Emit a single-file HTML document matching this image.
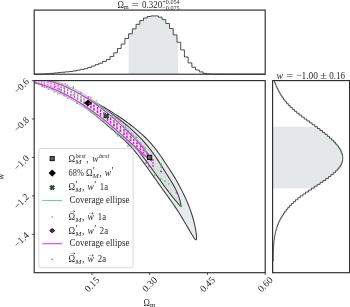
<!DOCTYPE html>
<html><head><meta charset="utf-8"><title>Contour plot</title>
<style>
html,body{margin:0;padding:0;background:#fff;}
body{width:350px;height:307px;overflow:hidden;}
svg{display:block;font-family:"Liberation Serif", serif;filter:blur(0.35px);}
</style></head><body>
<svg width="350" height="307" viewBox="0 0 350 307">
<rect width="350" height="307" fill="#fff"/>
<path d="M128.53 74.20 L128.53 38.52 L128.62 38.52 L128.62 33.76 L132.34 33.76 L132.34 28.87 L136.06 28.87 L136.06 24.32 L139.78 24.32 L139.78 20.58 L143.50 20.58 L143.50 18.00 L147.22 18.00 L147.22 16.52 L150.94 16.52 L150.94 15.90 L154.66 15.90 L154.66 15.90 L158.38 15.90 L158.38 17.14 L162.10 17.14 L162.10 19.67 L165.82 19.67 L165.82 23.47 L169.54 23.47 L169.54 28.56 L173.26 28.56 L173.26 34.86 L176.98 34.86 L176.98 42.23 L178.19 42.23 L178.19 74.20 Z" fill="#e4e8e9"/>
<path d="M34.20 74.19 H35.62 V74.14 H39.34 V74.07 H43.06 V74.00 H46.78 V73.65 H50.50 V73.30 H54.22 V72.94 H57.94 V72.58 H61.66 V72.22 H65.38 V71.85 H69.10 V71.49 H72.82 V70.94 H76.54 V70.18 H80.26 V69.42 H83.98 V68.66 H87.70 V67.47 H91.42 V66.07 H95.14 V64.66 H98.86 V63.26 H102.58 V61.44 H106.30 V59.53 H110.02 V56.43 H113.74 V52.83 H117.46 V48.54 H121.18 V44.08 H124.90 V38.52 H128.62 V33.76 H132.34 V28.87 H136.06 V24.32 H139.78 V20.58 H143.50 V18.00 H147.22 V16.52 H150.94 V15.90 H154.66 V15.90 H158.38 V17.14 H162.10 V19.67 H165.82 V23.47 H169.54 V28.56 H173.26 V34.86 H176.98 V42.23 H180.70 V49.92 H184.42 V56.97 H188.14 V62.90 H191.86 V67.25 H195.58 V69.98 H199.30 V71.88 H203.02 V73.39 H206.74 V73.90 H210.46 V74.10 H214.18 V74.11 H217.90 V74.12 H221.62 V74.12 H225.34 V74.13 H229.06 V74.14 H232.78 V74.14 H236.50 V74.15 H240.22 V74.16 H243.94 V74.16 H247.66 V74.17 H251.38 V74.18 H255.10 V74.18 H258.82 V74.19 H262.54 V74.20 H265.20" fill="none" stroke="#3a3a3a" stroke-width="0.9"/>
<path d="M272.60 126.70 L317.41 126.70 L317.41 128.62 L320.00 128.62 L320.00 130.55 L322.52 130.55 L322.52 132.47 L324.96 132.47 L324.96 134.39 L327.30 134.39 L327.30 136.31 L329.53 136.31 L329.53 138.23 L331.63 138.23 L331.63 140.15 L333.59 140.15 L333.59 142.07 L335.40 142.07 L335.40 143.99 L337.04 143.99 L337.04 145.91 L338.50 145.91 L338.50 147.83 L339.77 147.83 L339.77 149.76 L340.83 149.76 L340.83 151.68 L341.68 151.68 L341.68 153.60 L342.29 153.60 L342.29 155.52 L342.65 155.52 L342.65 157.44 L342.75 157.44 L342.75 159.36 L342.58 159.36 L342.58 161.28 L342.13 161.28 L342.13 163.20 L341.37 163.20 L341.37 165.12 L340.31 165.12 L340.31 167.05 L338.93 167.05 L338.93 168.97 L337.27 168.97 L337.27 170.89 L335.36 170.89 L335.36 172.81 L333.22 172.81 L333.22 174.73 L330.89 174.73 L330.89 176.65 L328.38 176.65 L328.38 178.57 L325.73 178.57 L325.73 180.49 L322.96 180.49 L322.96 182.41 L320.11 182.41 L320.11 184.33 L317.20 184.33 L317.20 186.25 L314.27 186.25 L314.27 188.18 L272.60 188.18 Z" fill="#e4e8e9"/>
<path d="M274.50 80.60 V82.52 H275.26 V84.44 H276.07 V86.36 H276.92 V88.28 H277.83 V90.20 H278.80 V92.13 H279.86 V94.05 H281.00 V95.97 H282.24 V97.89 H283.58 V99.81 H285.05 V101.73 H286.64 V103.65 H288.36 V105.57 H290.23 V107.49 H292.26 V109.41 H294.43 V111.34 H296.73 V113.26 H299.14 V115.18 H301.64 V117.10 H304.20 V119.02 H306.82 V120.94 H309.47 V122.86 H312.13 V124.78 H314.78 V126.70 H317.41 V128.62 H320.00 V130.55 H322.52 V132.47 H324.96 V134.39 H327.30 V136.31 H329.53 V138.23 H331.63 V140.15 H333.59 V142.07 H335.40 V143.99 H337.04 V145.91 H338.50 V147.83 H339.77 V149.76 H340.83 V151.68 H341.68 V153.60 H342.29 V155.52 H342.65 V157.44 H342.75 V159.36 H342.58 V161.28 H342.13 V163.20 H341.37 V165.12 H340.31 V167.05 H338.93 V168.97 H337.27 V170.89 H335.36 V172.81 H333.22 V174.73 H330.89 V176.65 H328.38 V178.57 H325.73 V180.49 H322.96 V182.41 H320.11 V184.33 H317.20 V186.25 H314.27 V188.18 H311.35 V190.10 H308.45 V192.02 H305.62 V193.94 H302.89 V195.86 H300.27 V197.78 H297.81 V199.70 H295.51 V201.62 H293.36 V203.54 H291.37 V205.47 H289.52 V207.39 H287.80 V209.31 H286.22 V211.23 H284.76 V213.15 H283.41 V215.07 H282.18 V216.99 H281.05 V218.91 H280.02 V220.83 H279.10 V222.75 H278.26 V224.68 H277.51 V226.60 H276.85 V228.52 H276.26 V230.44 H275.74 V232.36 H275.29 V234.28 H274.90 V236.20 H274.56 V238.12 H274.28 V240.04 H274.05 V241.96 H273.85 V243.88 H273.70 V245.81 H273.57 V247.73 H273.47 V249.65 H273.39 V251.57 H273.33 V253.49 H273.28 V255.41 H273.24 V257.33 H273.19 V259.25 H273.15 V261.17 H272.60 V263.10 H272.60 V265.02 H272.60 V266.94 H272.60 V268.86 H272.60 V270.78 H272.60 V272.70" fill="none" stroke="#3a3a3a" stroke-width="0.9"/>
<clipPath id="cm"><rect x="34.2" y="80.6" width="231.0" height="192.1"/></clipPath>
<g clip-path="url(#cm)">
<path d="M30.02 78.44 L33.09 79.00 L36.14 79.60 L39.18 80.27 L42.20 80.98 L45.21 81.75 L48.20 82.57 L51.17 83.44 L54.13 84.36 L57.08 85.33 L60.01 86.34 L62.92 87.39 L65.82 88.49 L68.71 89.64 L71.57 90.82 L74.43 92.04 L77.27 93.31 L80.09 94.61 L82.90 95.94 L85.69 97.31 L88.47 98.72 L91.24 100.15 L93.98 101.62 L96.72 103.12 L99.44 104.65 L102.14 106.20 L104.83 107.78 L107.50 109.39 L110.16 111.01 L112.80 112.67 L115.43 114.34 L118.04 116.04 L120.63 117.76 L123.20 119.52 L125.74 121.30 L128.25 123.12 L130.73 124.97 L133.17 126.87 L135.58 128.80 L137.95 130.78 L140.28 132.80 L142.56 134.88 L144.79 137.00 L146.98 139.17 L149.11 141.40 L151.18 143.69 L153.20 146.04 L155.16 148.45 L157.06 150.93 L158.90 153.44 L160.71 156.00 L162.48 158.59 L164.22 161.19 L165.94 163.81 L167.65 166.42 L169.34 169.02 L171.02 171.64 L172.66 174.26 L174.28 176.89 L175.85 179.54 L177.39 182.22 L178.89 184.91 L180.35 187.63 L181.78 190.37 L183.16 193.14 L184.51 195.95 L185.81 198.78 L187.06 201.63 L188.26 204.51 L189.40 207.42 L190.48 210.34 L191.49 213.29 L192.43 216.26 L193.30 219.24 L194.08 222.25 L194.78 225.26 L195.39 228.30 L195.91 231.34 L196.32 234.40 L196.63 237.46 L196.50 239.20 L195.80 239.90 L194.54 238.85 L192.98 236.31 L191.45 233.76 L189.94 231.20 L188.43 228.64 L186.93 226.07 L185.43 223.51 L183.92 220.95 L182.40 218.39 L180.86 215.85 L179.30 213.33 L177.72 210.82 L176.10 208.34 L174.46 205.87 L172.79 203.43 L171.10 201.00 L169.39 198.58 L167.66 196.17 L165.93 193.76 L164.19 191.35 L162.46 188.95 L160.72 186.54 L158.99 184.12 L157.27 181.69 L155.55 179.26 L153.83 176.83 L152.12 174.39 L150.40 171.96 L148.68 169.53 L146.95 167.12 L145.20 164.71 L143.45 162.32 L141.67 159.94 L139.88 157.59 L138.07 155.25 L136.22 152.95 L134.34 150.68 L132.42 148.45 L130.45 146.26 L128.43 144.11 L126.35 142.02 L124.23 139.97 L122.07 137.95 L119.87 135.96 L117.65 134.00 L115.40 132.06 L113.13 130.13 L110.86 128.22 L108.57 126.30 L106.29 124.39 L104.01 122.47 L101.74 120.54 L99.47 118.61 L97.20 116.69 L94.92 114.77 L92.64 112.87 L90.35 110.98 L88.04 109.12 L85.72 107.28 L83.37 105.47 L81.00 103.69 L78.61 101.96 L76.18 100.27 L73.72 98.63 L71.22 97.04 L68.69 95.51 L66.11 94.03 L63.49 92.62 L60.84 91.27 L58.16 89.98 L55.44 88.75 L52.69 87.58 L49.92 86.48 L47.13 85.43 L44.31 84.45 L41.47 83.54 L38.62 82.68 L35.75 81.89 L32.88 81.17 L29.99 80.51Z" fill="#e7ebeb" stroke="#3a3a3a" stroke-width="1.05" stroke-linejoin="round"/>
<path d="M88.11 100.24 L89.84 100.68 L91.52 101.26 L93.16 101.96 L94.75 102.76 L96.31 103.64 L97.86 104.57 L99.39 105.54 L100.92 106.53 L102.44 107.53 L103.97 108.53 L105.50 109.54 L107.02 110.57 L108.54 111.60 L110.06 112.64 L111.57 113.69 L113.07 114.75 L114.57 115.82 L116.06 116.90 L117.54 117.99 L119.01 119.10 L120.47 120.21 L121.92 121.34 L123.35 122.47 L124.78 123.62 L126.19 124.78 L127.59 125.95 L128.98 127.14 L130.35 128.34 L131.71 129.55 L133.06 130.77 L134.39 132.01 L135.71 133.26 L137.02 134.53 L138.30 135.81 L139.58 137.10 L140.83 138.41 L142.07 139.73 L143.30 141.07 L144.51 142.42 L145.70 143.79 L146.87 145.18 L148.03 146.58 L149.17 147.99 L150.29 149.42 L151.39 150.87 L152.48 152.34 L153.54 153.82 L154.59 155.31 L155.63 156.82 L156.66 158.33 L157.67 159.86 L158.67 161.39 L159.67 162.93 L160.65 164.48 L161.63 166.03 L162.61 167.58 L163.59 169.14 L164.56 170.69 L165.53 172.24 L166.51 173.79 L167.49 175.33 L168.46 176.87 L169.43 178.41 L170.39 179.96 L171.34 181.51 L172.27 183.06 L173.18 184.63 L174.07 186.21 L174.92 187.80 L175.74 189.41 L176.52 191.04 L177.26 192.69 L177.96 194.37 L178.60 196.07 L179.19 197.80 L179.72 199.57 L180.18 201.37 L180.58 203.21 L180.91 205.08 L181.30 206.60 L180.49 206.30 L179.31 204.97 L178.14 203.62 L176.98 202.27 L175.83 200.90 L174.70 199.52 L173.57 198.14 L172.45 196.74 L171.35 195.34 L170.25 193.93 L169.16 192.52 L168.08 191.09 L167.00 189.66 L165.93 188.23 L164.87 186.79 L163.81 185.34 L162.75 183.90 L161.70 182.45 L160.65 180.99 L159.61 179.54 L158.56 178.08 L157.52 176.62 L156.47 175.17 L155.43 173.71 L154.39 172.25 L153.34 170.79 L152.29 169.34 L151.25 167.89 L150.19 166.44 L149.14 164.99 L148.07 163.55 L147.01 162.12 L145.94 160.68 L144.86 159.26 L143.77 157.84 L142.68 156.42 L141.58 155.02 L140.47 153.62 L139.36 152.23 L138.23 150.85 L137.09 149.47 L135.95 148.11 L134.79 146.75 L133.63 145.41 L132.45 144.07 L131.26 142.74 L130.06 141.43 L128.84 140.13 L127.62 138.84 L126.38 137.56 L125.12 136.29 L123.86 135.04 L122.58 133.80 L121.28 132.57 L119.97 131.36 L118.64 130.16 L117.30 128.98 L115.95 127.80 L114.59 126.63 L113.22 125.48 L111.84 124.32 L110.47 123.17 L109.09 122.02 L107.72 120.87 L106.34 119.71 L104.98 118.55 L103.62 117.39 L102.27 116.21 L100.93 115.03 L99.61 113.83 L98.31 112.62 L97.02 111.39 L95.75 110.15 L94.51 108.88 L93.29 107.60 L92.09 106.29 L90.93 104.95 L89.80 103.59 L88.70 102.20 L87.63 100.77Z" fill="#dbe0e0" stroke="#3a3a3a" stroke-width="1.05" stroke-linejoin="round"/>
<path d="M30.41 76.63 L32.67 76.80 L34.91 77.01 L37.15 77.27 L39.36 77.58 L41.57 77.94 L43.75 78.34 L45.93 78.79 L48.09 79.29 L50.24 79.83 L52.37 80.41 L54.49 81.04 L56.60 81.71 L58.69 82.41 L60.77 83.16 L62.83 83.95 L64.89 84.77 L66.93 85.63 L68.95 86.52 L70.96 87.45 L72.96 88.42 L74.95 89.41 L76.92 90.44 L78.88 91.50 L80.83 92.59 L82.76 93.71 L84.68 94.85 L86.59 96.02 L88.48 97.22 L90.37 98.45 L92.24 99.70 L94.09 100.97 L95.94 102.26 L97.77 103.58 L99.59 104.91 L101.40 106.27 L103.19 107.64 L104.97 109.03 L106.74 110.44 L108.50 111.86 L110.25 113.30 L111.98 114.75 L113.70 116.22 L115.41 117.70 L117.10 119.20 L118.78 120.70 L120.45 122.23 L122.10 123.76 L123.73 125.31 L125.35 126.88 L126.95 128.46 L128.53 130.05 L130.10 131.66 L131.65 133.29 L133.18 134.92 L134.68 136.58 L136.17 138.24 L137.64 139.93 L139.09 141.62 L140.52 143.34 L141.92 145.06 L143.30 146.81 L144.66 148.56 L146.00 150.34 L147.31 152.12 L148.59 153.93 L149.86 155.75 L151.09 157.58 L149.61 160.01 L147.93 158.74 L146.25 157.46 L144.59 156.15 L142.93 154.83 L141.28 153.50 L139.63 152.16 L137.99 150.80 L136.36 149.43 L134.73 148.05 L133.10 146.67 L131.47 145.28 L129.85 143.88 L128.23 142.47 L126.61 141.06 L124.99 139.65 L123.36 138.24 L121.74 136.83 L120.11 135.42 L118.49 134.01 L116.85 132.60 L115.21 131.20 L113.57 129.80 L111.92 128.41 L110.27 127.02 L108.61 125.65 L106.93 124.28 L105.26 122.92 L103.57 121.58 L101.87 120.25 L100.17 118.93 L98.45 117.62 L96.73 116.32 L95.00 115.04 L93.25 113.77 L91.50 112.52 L89.74 111.28 L87.97 110.05 L86.19 108.84 L84.40 107.64 L82.60 106.46 L80.79 105.30 L78.98 104.15 L77.15 103.02 L75.31 101.90 L73.46 100.80 L71.60 99.72 L69.73 98.66 L67.85 97.62 L65.96 96.60 L64.06 95.59 L62.15 94.61 L60.22 93.64 L58.29 92.70 L56.34 91.77 L54.39 90.87 L52.42 89.99 L50.44 89.13 L48.45 88.29 L46.45 87.48 L44.44 86.69 L42.42 85.92 L40.38 85.17 L38.33 84.45 L36.27 83.76 L34.20 83.09 L32.12 82.44 L30.02 81.82Z" fill="#ffffff" fill-opacity="0.6" stroke="#5cc878" stroke-width="0.8" stroke-linejoin="round"/>
<path d="M28.10 77.24 L30.35 77.43 L32.59 77.66 L34.81 77.94 L37.01 78.26 L39.21 78.63 L41.38 79.04 L43.55 79.50 L45.70 80.00 L47.84 80.54 L49.97 81.12 L52.08 81.74 L54.17 82.41 L56.26 83.11 L58.33 83.84 L60.39 84.62 L62.44 85.43 L64.47 86.27 L66.49 87.15 L68.49 88.06 L70.49 89.01 L72.47 89.98 L74.44 90.99 L76.39 92.02 L78.33 93.09 L80.26 94.18 L82.18 95.30 L84.09 96.45 L85.98 97.62 L87.86 98.82 L89.73 100.04 L91.58 101.28 L93.43 102.54 L95.26 103.83 L97.08 105.13 L98.89 106.46 L100.68 107.80 L102.47 109.17 L104.24 110.54 L106.00 111.94 L107.75 113.35 L109.48 114.77 L111.21 116.21 L112.92 117.66 L114.62 119.12 L116.31 120.60 L117.99 122.09 L119.65 123.60 L121.30 125.11 L122.93 126.64 L124.55 128.18 L126.15 129.74 L127.74 131.30 L129.32 132.88 L130.88 134.47 L132.42 136.08 L133.95 137.69 L135.46 139.32 L136.95 140.96 L138.42 142.61 L139.88 144.27 L141.32 145.94 L142.74 147.62 L144.15 149.32 L145.53 151.02 L146.89 152.74 L148.24 154.47 L149.56 156.20 L150.87 157.95 L152.15 159.71 L151.46 160.98 L149.84 159.64 L148.22 158.28 L146.61 156.92 L145.00 155.54 L143.40 154.15 L141.80 152.75 L140.19 151.34 L138.59 149.92 L136.99 148.50 L135.39 147.07 L133.79 145.64 L132.19 144.20 L130.59 142.76 L128.99 141.32 L127.38 139.88 L125.77 138.43 L124.15 136.99 L122.54 135.55 L120.91 134.11 L119.29 132.68 L117.65 131.25 L116.01 129.82 L114.37 128.41 L112.71 127.00 L111.05 125.60 L109.38 124.21 L107.71 122.82 L106.02 121.45 L104.32 120.10 L102.62 118.75 L100.90 117.42 L99.18 116.10 L97.44 114.79 L95.70 113.49 L93.94 112.22 L92.18 110.95 L90.41 109.70 L88.62 108.47 L86.83 107.25 L85.03 106.05 L83.21 104.87 L81.39 103.70 L79.55 102.55 L77.71 101.42 L75.85 100.31 L73.99 99.22 L72.11 98.15 L70.22 97.10 L68.33 96.07 L66.42 95.06 L64.50 94.07 L62.56 93.10 L60.62 92.16 L58.67 91.24 L56.70 90.34 L54.73 89.47 L52.74 88.62 L50.74 87.80 L48.73 87.00 L46.70 86.23 L44.67 85.48 L42.62 84.76 L40.56 84.07 L38.49 83.40 L36.41 82.77 L34.31 82.16 L32.20 81.58 L30.08 81.03 L27.95 80.51Z" fill="#fbf3fb" fill-opacity="0.85" stroke="#cc38cc" stroke-width="1.25" stroke-linejoin="round"/>
<path d="M34.64 79.33 L36.81 79.75 L38.97 80.20 L41.11 80.70 L43.24 81.24 L45.36 81.81 L47.46 82.42 L49.56 83.06 L51.63 83.74 L53.70 84.46 L55.75 85.21 L57.79 85.99 L59.82 86.80 L61.84 87.65 L63.84 88.53 L65.83 89.43 L67.81 90.37 L69.77 91.34 L71.73 92.33 L73.67 93.35 L75.60 94.40 L77.52 95.47 L79.42 96.57 L81.31 97.69 L83.20 98.84 L85.07 100.01 L86.93 101.20 L88.77 102.42 L90.61 103.65 L92.43 104.91 L94.24 106.18 L96.04 107.47 L97.83 108.78 L99.61 110.11 L101.38 111.45 L103.14 112.81 L104.88 114.19 L106.62 115.58 L108.34 116.98 L110.05 118.39 L111.75 119.82 L113.45 121.26 L115.12 122.71 L116.79 124.18 L118.45 125.65 L120.09 127.14 L121.73 128.63 L123.35 130.14 L124.96 131.66 L126.56 133.18 L128.15 134.71 L129.72 136.26 L131.29 137.81 L132.84 139.36 L134.38 140.93 L135.91 142.50 L137.42 144.08 L138.93 145.66 L140.42 147.25 L141.90 148.85 L143.37 150.45 L144.83 152.05 L146.27 153.66 L147.70 155.28M34.47 80.76 L36.61 81.28 L38.73 81.83 L40.83 82.41 L42.93 83.02 L45.01 83.67 L47.08 84.35 L49.13 85.06 L51.18 85.80 L53.21 86.57 L55.23 87.37 L57.24 88.20 L59.24 89.06 L61.22 89.94 L63.19 90.85 L65.15 91.79 L67.10 92.75 L69.04 93.74 L70.96 94.75 L72.88 95.79 L74.78 96.85 L76.67 97.93 L78.55 99.03 L80.42 100.16 L82.28 101.31 L84.13 102.48 L85.96 103.66 L87.79 104.87 L89.60 106.10 L91.40 107.34 L93.20 108.60 L94.98 109.88 L96.75 111.17 L98.51 112.48 L100.26 113.81 L102.00 115.15 L103.73 116.50 L105.45 117.87 L107.16 119.25 L108.86 120.64 L110.55 122.05 L112.23 123.46 L113.90 124.89 L115.56 126.32 L117.21 127.77 L118.86 129.22 L120.49 130.69 L122.11 132.16 L123.73 133.63 L125.34 135.11 L126.94 136.60 L128.53 138.09 L130.12 139.59 L131.70 141.09 L133.27 142.59 L134.84 144.09 L136.39 145.60 L137.95 147.10 L139.49 148.61 L141.03 150.11 L142.57 151.62 L144.10 153.12 L145.63 154.61 L147.15 156.11" fill="none" stroke="#c640c6" stroke-width="0.7" stroke-dasharray="2.2 1.6" opacity="0.35"/>
<rect x="40.9" y="81.27" width="1.2" height="0.69" fill="#c41fc4" opacity="0.8"/>
<rect x="40.9" y="82.76" width="1.2" height="0.89" fill="#c41fc4" opacity="0.8"/>
<rect x="43.9" y="81.47" width="1.2" height="1.05" fill="#c41fc4" opacity="0.8"/>
<rect x="43.9" y="83.33" width="1.2" height="1.25" fill="#c41fc4" opacity="0.8"/>
<rect x="47.4" y="81.70" width="1.2" height="1.45" fill="#c41fc4" opacity="0.8"/>
<rect x="47.4" y="83.94" width="1.2" height="1.65" fill="#d040d0" opacity="0.8"/>
<rect x="50.4" y="82.66" width="1.2" height="1.58" fill="#c41fc4" opacity="0.8"/>
<rect x="50.4" y="85.04" width="1.2" height="1.78" fill="#d040d0" opacity="0.8"/>
<rect x="53.9" y="83.75" width="1.2" height="1.70" fill="#c41fc4" opacity="0.8"/>
<rect x="53.9" y="86.25" width="1.2" height="1.90" fill="#c41fc4" opacity="0.8"/>
<rect x="57.4" y="84.95" width="1.2" height="1.80" fill="#c41fc4" opacity="0.8"/>
<rect x="57.4" y="87.55" width="1.2" height="2.00" fill="#c41fc4" opacity="0.8"/>
<rect x="60.4" y="86.25" width="1.2" height="1.90" fill="#2f8a45" opacity="0.8"/>
<rect x="60.4" y="88.95" width="1.2" height="2.10" fill="#444" opacity="0.8"/>
<rect x="63.9" y="87.64" width="1.2" height="1.99" fill="#2f8a45" opacity="0.8"/>
<rect x="63.9" y="90.43" width="1.2" height="2.19" fill="#444" opacity="0.8"/>
<rect x="66.9" y="89.15" width="1.2" height="2.07" fill="#3a9a50" opacity="0.8"/>
<rect x="66.9" y="92.02" width="1.2" height="2.27" fill="#c41fc4" opacity="0.8"/>
<rect x="70.4" y="90.75" width="1.2" height="2.15" fill="#2f8a45" opacity="0.8"/>
<rect x="70.4" y="93.69" width="1.2" height="2.35" fill="#c41fc4" opacity="0.8"/>
<rect x="73.9" y="92.45" width="1.2" height="2.22" fill="#2f8a45" opacity="0.8"/>
<rect x="73.9" y="95.46" width="1.2" height="2.42" fill="#c41fc4" opacity="0.8"/>
<rect x="76.9" y="94.25" width="1.2" height="2.27" fill="#3a9a50" opacity="0.8"/>
<rect x="76.9" y="97.32" width="1.2" height="2.47" fill="#c41fc4" opacity="0.8"/>
<rect x="80.4" y="96.14" width="1.2" height="2.33" fill="#2f8a45" opacity="0.8"/>
<rect x="80.4" y="99.27" width="1.2" height="2.53" fill="#444" opacity="0.8"/>
<rect x="83.4" y="98.14" width="1.2" height="2.38" fill="#3a9a50" opacity="0.8"/>
<rect x="83.4" y="101.31" width="1.2" height="2.58" fill="#c41fc4" opacity="0.8"/>
<rect x="86.9" y="100.23" width="1.2" height="2.42" fill="#444" opacity="0.8"/>
<rect x="86.9" y="103.45" width="1.2" height="2.62" fill="#c41fc4" opacity="0.8"/>
<rect x="90.2" y="102.41" width="1.5" height="2.45" fill="#444" opacity="1.0"/>
<rect x="90.2" y="105.67" width="1.5" height="2.65" fill="#c41fc4" opacity="1.0"/>
<rect x="93.2" y="104.69" width="1.5" height="2.48" fill="#c41fc4" opacity="1.0"/>
<rect x="93.2" y="107.97" width="1.5" height="2.68" fill="#c41fc4" opacity="1.0"/>
<rect x="96.8" y="107.06" width="1.5" height="2.50" fill="#c41fc4" opacity="1.0"/>
<rect x="96.8" y="110.36" width="1.5" height="2.70" fill="#c41fc4" opacity="1.0"/>
<rect x="99.8" y="109.52" width="1.5" height="2.52" fill="#c41fc4" opacity="1.0"/>
<rect x="99.8" y="112.84" width="1.5" height="2.72" fill="#555" opacity="1.0"/>
<rect x="103.2" y="112.07" width="1.5" height="2.53" fill="#c41fc4" opacity="1.0"/>
<rect x="103.2" y="115.40" width="1.5" height="2.73" fill="#c41fc4" opacity="1.0"/>
<rect x="106.8" y="114.70" width="1.5" height="2.54" fill="#c41fc4" opacity="1.0"/>
<rect x="106.8" y="118.04" width="1.5" height="2.74" fill="#555" opacity="1.0"/>
<rect x="109.8" y="117.42" width="1.5" height="2.55" fill="#a020b0" opacity="1.0"/>
<rect x="109.8" y="120.76" width="1.5" height="2.75" fill="#c41fc4" opacity="1.0"/>
<rect x="113.2" y="120.21" width="1.5" height="2.54" fill="#c41fc4" opacity="1.0"/>
<rect x="113.2" y="123.56" width="1.5" height="2.74" fill="#555" opacity="1.0"/>
<rect x="116.2" y="123.10" width="1.5" height="2.53" fill="#c41fc4" opacity="1.0"/>
<rect x="116.2" y="126.42" width="1.5" height="2.73" fill="#c41fc4" opacity="1.0"/>
<rect x="119.8" y="126.07" width="1.5" height="2.50" fill="#c41fc4" opacity="1.0"/>
<rect x="119.8" y="129.36" width="1.5" height="2.70" fill="#555" opacity="1.0"/>
<rect x="123.2" y="129.13" width="1.5" height="2.45" fill="#c41fc4" opacity="1.0"/>
<rect x="123.2" y="132.37" width="1.5" height="2.65" fill="#c41fc4" opacity="1.0"/>
<rect x="126.2" y="132.28" width="1.5" height="2.37" fill="#c41fc4" opacity="1.0"/>
<rect x="126.2" y="135.45" width="1.5" height="2.57" fill="#c41fc4" opacity="1.0"/>
<rect x="129.8" y="135.54" width="1.5" height="2.25" fill="#c41fc4" opacity="1.0"/>
<rect x="129.8" y="138.59" width="1.5" height="2.45" fill="#555" opacity="1.0"/>
<rect x="132.8" y="138.89" width="1.5" height="2.10" fill="#c41fc4" opacity="1.0"/>
<rect x="132.8" y="141.79" width="1.5" height="2.30" fill="#c41fc4" opacity="1.0"/>
<rect x="136.2" y="142.36" width="1.5" height="1.90" fill="#a020b0" opacity="1.0"/>
<rect x="136.2" y="145.06" width="1.5" height="2.10" fill="#c41fc4" opacity="1.0"/>
<rect x="139.8" y="145.96" width="1.5" height="1.64" fill="#c41fc4" opacity="1.0"/>
<rect x="139.8" y="148.39" width="1.5" height="1.84" fill="#c41fc4" opacity="1.0"/>
<rect x="142.8" y="149.68" width="1.5" height="1.31" fill="#a020b0" opacity="1.0"/>
<rect x="142.8" y="151.79" width="1.5" height="1.51" fill="#c41fc4" opacity="1.0"/>
<rect x="146.2" y="153.54" width="1.5" height="0.91" fill="#a020b0" opacity="1.0"/>
<rect x="146.2" y="155.26" width="1.5" height="1.11" fill="#c41fc4" opacity="1.0"/>
<circle cx="124.88" cy="131.79" r="0.8" fill="#4fd07a" opacity="0.85"/>
<circle cx="68.61" cy="87.68" r="0.8" fill="#e04be0" opacity="0.85"/>
<circle cx="130.94" cy="146.08" r="0.8" fill="#e04be0" opacity="0.85"/>
<circle cx="131.53" cy="133.46" r="0.8" fill="#e04be0" opacity="0.85"/>
<circle cx="73.14" cy="94.99" r="0.8" fill="#e04be0" opacity="0.85"/>
<circle cx="88.33" cy="97.62" r="0.8" fill="#e04be0" opacity="0.85"/>
<circle cx="144.30" cy="149.09" r="0.8" fill="#4fd07a" opacity="0.85"/>
<circle cx="73.46" cy="86.84" r="0.8" fill="#e04be0" opacity="0.85"/>
<circle cx="42.37" cy="86.15" r="0.8" fill="#e04be0" opacity="0.85"/>
<circle cx="41.64" cy="77.48" r="0.8" fill="#e04be0" opacity="0.85"/>
<circle cx="126.96" cy="140.52" r="0.8" fill="#e04be0" opacity="0.85"/>
<circle cx="116.18" cy="133.72" r="0.8" fill="#4fd07a" opacity="0.85"/>
<circle cx="57.94" cy="94.04" r="0.8" fill="#e04be0" opacity="0.85"/>
<circle cx="103.92" cy="120.88" r="0.8" fill="#e04be0" opacity="0.85"/>
<circle cx="131.30" cy="137.79" r="0.8" fill="#e04be0" opacity="0.85"/>
<circle cx="46.53" cy="87.08" r="0.8" fill="#e04be0" opacity="0.85"/>
<circle cx="143.34" cy="154.23" r="0.8" fill="#e04be0" opacity="0.85"/>
<circle cx="140.79" cy="142.93" r="0.8" fill="#e04be0" opacity="0.85"/>
<circle cx="123.19" cy="126.22" r="0.8" fill="#e04be0" opacity="0.85"/>
<circle cx="67.11" cy="85.00" r="0.8" fill="#e04be0" opacity="0.85"/>
<circle cx="80.43" cy="93.72" r="0.8" fill="#e04be0" opacity="0.85"/>
<circle cx="115.15" cy="118.18" r="0.8" fill="#e04be0" opacity="0.85"/>
<circle cx="112.36" cy="127.63" r="0.8" fill="#e04be0" opacity="0.85"/>
<circle cx="64.01" cy="87.92" r="0.8" fill="#e04be0" opacity="0.85"/>
<circle cx="102.73" cy="108.61" r="0.8" fill="#e04be0" opacity="0.85"/>
<circle cx="64.03" cy="95.68" r="0.8" fill="#e04be0" opacity="0.85"/>
<circle cx="128.11" cy="142.66" r="0.8" fill="#e04be0" opacity="0.85"/>
<circle cx="81.30" cy="103.93" r="0.8" fill="#4fd07a" opacity="0.85"/>
<circle cx="87.25" cy="106.20" r="0.8" fill="#e04be0" opacity="0.85"/>
<circle cx="111.32" cy="129.48" r="0.8" fill="#e04be0" opacity="0.85"/>
<circle cx="96.58" cy="100.77" r="0.8" fill="#4fd07a" opacity="0.85"/>
<circle cx="44.32" cy="87.32" r="0.8" fill="#e04be0" opacity="0.85"/>
<circle cx="36.34" cy="83.28" r="0.8" fill="#e04be0" opacity="0.85"/>
<circle cx="117.73" cy="118.09" r="0.8" fill="#e04be0" opacity="0.85"/>
<circle cx="90.78" cy="97.43" r="0.8" fill="#e04be0" opacity="0.85"/>
<circle cx="102.58" cy="108.92" r="0.8" fill="#4fd07a" opacity="0.85"/>
<circle cx="128.69" cy="133.86" r="0.8" fill="#4fd07a" opacity="0.85"/>
<circle cx="45.95" cy="78.70" r="0.8" fill="#e04be0" opacity="0.85"/>
<circle cx="42.47" cy="85.63" r="0.8" fill="#e04be0" opacity="0.85"/>
<circle cx="148.03" cy="158.58" r="0.8" fill="#4fd07a" opacity="0.85"/>
<circle cx="121.95" cy="136.49" r="0.8" fill="#4fd07a" opacity="0.85"/>
<circle cx="65.22" cy="83.59" r="0.8" fill="#e04be0" opacity="0.85"/>
<circle cx="42.37" cy="86.19" r="0.8" fill="#e04be0" opacity="0.85"/>
<circle cx="131.27" cy="145.58" r="0.8" fill="#4fd07a" opacity="0.85"/>
<circle cx="130.53" cy="138.96" r="0.8" fill="#e04be0" opacity="0.85"/>
<circle cx="130.39" cy="143.06" r="0.8" fill="#e04be0" opacity="0.85"/>
<circle cx="95.33" cy="114.30" r="0.8" fill="#4fd07a" opacity="0.85"/>
<circle cx="60.49" cy="84.25" r="0.8" fill="#e04be0" opacity="0.85"/>
<circle cx="143.73" cy="146.19" r="0.8" fill="#e04be0" opacity="0.85"/>
<circle cx="125.89" cy="125.99" r="0.8" fill="#e04be0" opacity="0.85"/>
<circle cx="60.38" cy="93.06" r="0.8" fill="#e04be0" opacity="0.85"/>
<circle cx="55.47" cy="86.39" r="0.8" fill="#e04be0" opacity="0.85"/>
<circle cx="59.40" cy="88.42" r="0.8" fill="#e04be0" opacity="0.85"/>
<circle cx="80.46" cy="93.62" r="0.8" fill="#4fd07a" opacity="0.85"/>
<circle cx="123.74" cy="137.64" r="0.8" fill="#4fd07a" opacity="0.85"/>
<circle cx="52.59" cy="89.25" r="0.8" fill="#e04be0" opacity="0.85"/>
<circle cx="129.87" cy="139.97" r="0.8" fill="#4fd07a" opacity="0.85"/>
<circle cx="72.83" cy="88.84" r="0.8" fill="#4fd07a" opacity="0.85"/>
<circle cx="143.16" cy="150.76" r="0.8" fill="#e04be0" opacity="0.85"/>
<circle cx="66.23" cy="95.69" r="0.8" fill="#e04be0" opacity="0.85"/>
<circle cx="103.86" cy="116.25" r="0.8" fill="#e04be0" opacity="0.85"/>
<circle cx="88.74" cy="96.56" r="0.8" fill="#e04be0" opacity="0.85"/>
<circle cx="116.86" cy="132.58" r="0.8" fill="#4fd07a" opacity="0.85"/>
<circle cx="83.35" cy="104.51" r="0.8" fill="#e04be0" opacity="0.85"/>
<circle cx="141.50" cy="153.18" r="0.8" fill="#e04be0" opacity="0.85"/>
<circle cx="139.39" cy="148.76" r="0.8" fill="#e04be0" opacity="0.85"/>
<circle cx="84.72" cy="106.84" r="0.8" fill="#e04be0" opacity="0.85"/>
<circle cx="76.93" cy="103.62" r="0.8" fill="#e04be0" opacity="0.85"/>
<circle cx="43.84" cy="77.87" r="0.8" fill="#e04be0" opacity="0.85"/>
<circle cx="54.09" cy="92.09" r="0.8" fill="#e04be0" opacity="0.85"/>
<circle cx="32.75" cy="75.95" r="0.8" fill="#e04be0" opacity="0.85"/>
<circle cx="142.88" cy="154.91" r="0.8" fill="#e04be0" opacity="0.85"/>
<circle cx="136.76" cy="137.37" r="0.8" fill="#e04be0" opacity="0.85"/>
<circle cx="120.21" cy="131.15" r="0.8" fill="#e04be0" opacity="0.85"/>
<circle cx="59.11" cy="89.53" r="0.8" fill="#e04be0" opacity="0.85"/>
<circle cx="146.49" cy="153.33" r="0.8" fill="#e04be0" opacity="0.85"/>
<circle cx="73.30" cy="87.35" r="0.8" fill="#e04be0" opacity="0.85"/>
<circle cx="67.70" cy="98.12" r="0.8" fill="#e04be0" opacity="0.85"/>
<circle cx="80.89" cy="92.41" r="0.8" fill="#e04be0" opacity="0.85"/>
<circle cx="77.08" cy="103.19" r="0.8" fill="#e04be0" opacity="0.85"/>
<circle cx="97.36" cy="114.96" r="0.8" fill="#e04be0" opacity="0.85"/>
<circle cx="91.47" cy="112.60" r="0.8" fill="#4fd07a" opacity="0.85"/>
<circle cx="48.25" cy="89.24" r="0.8" fill="#e04be0" opacity="0.85"/>
<circle cx="62.51" cy="85.14" r="0.8" fill="#e04be0" opacity="0.85"/>
<circle cx="132.93" cy="135.30" r="0.8" fill="#e04be0" opacity="0.85"/>
<circle cx="128.07" cy="130.79" r="0.8" fill="#e04be0" opacity="0.85"/>
<circle cx="93.53" cy="113.15" r="0.8" fill="#4fd07a" opacity="0.85"/>
<circle cx="121.06" cy="137.92" r="0.8" fill="#e04be0" opacity="0.85"/>
<circle cx="145.17" cy="147.82" r="0.8" fill="#e04be0" opacity="0.85"/>
<circle cx="145.36" cy="151.27" r="0.8" fill="#e04be0" opacity="0.85"/>
<circle cx="161.0" cy="163.7" r="0.9" fill="#4fd07a"/>
<circle cx="161.0" cy="167.2" r="0.9" fill="#4fd07a"/>
<circle cx="161.0" cy="171.4" r="0.9" fill="#7a3a9a"/>
<circle cx="164.9" cy="181.2" r="0.9" fill="#4fd07a"/>
<circle cx="160.7" cy="179.2" r="0.9" fill="#3fc060"/>
<circle cx="168.7" cy="183.8" r="0.9" fill="#4fd07a"/>
<circle cx="176.6" cy="192.5" r="0.9" fill="#b040c0"/>
<circle cx="180.6" cy="206.0" r="0.9" fill="#3fc060"/>
<circle cx="153.0" cy="160.0" r="0.9" fill="#d048d0"/>
<circle cx="153.0" cy="163.0" r="0.9" fill="#d048d0"/>
<circle cx="153.0" cy="166.0" r="0.9" fill="#b040c0"/>
<circle cx="149.0" cy="166.5" r="0.9" fill="#d048d0"/>
<circle cx="146.0" cy="163.0" r="0.9" fill="#d048d0"/>
<circle cx="155.0" cy="175.0" r="0.9" fill="#4fd07a"/>
<circle cx="112.0" cy="116.0" r="0.9" fill="#4fd07a"/>
<circle cx="125.0" cy="128.0" r="0.9" fill="#4fd07a"/>
<circle cx="135.0" cy="139.0" r="0.9" fill="#4fd07a"/>
<circle cx="145.0" cy="151.0" r="0.9" fill="#4fd07a"/>
<circle cx="150.5" cy="158.0" r="0.9" fill="#4fd07a"/>
<circle cx="100.0" cy="107.0" r="0.9" fill="#4fd07a"/>
<circle cx="118.0" cy="136.0" r="0.9" fill="#4fd07a"/>
<circle cx="128.0" cy="146.0" r="0.9" fill="#4fd07a"/>
<path d="M83.9 103 L88 99.8 L92.1 103 L88 106.2Z" fill="#000"/>
<circle cx="89.5" cy="103.5" r="1" fill="#7a2a8a"/>
<path d="M107.46 113.57 L108.73 114.84 L107.67 115.90 L108.73 116.96 L107.46 118.23 L106.40 117.17 L105.34 118.23 L104.07 116.96 L105.13 115.90 L104.07 114.84 L105.34 113.57 L106.40 114.63Z" fill="#1f6a35" stroke="#0a200f" stroke-width="0.9" stroke-linejoin="round"/>
<rect x="147.50" y="155.30" width="4.20" height="4.20" fill="#5a5f5f" stroke="#111" stroke-width="1"/>
</g>
<rect x="38.8" y="148.5" width="94.2" height="119.3" rx="2" fill="#fff" fill-opacity="0.8" stroke="#d4d4d4" stroke-width="0.9"/>
<rect x="50.15" y="156.55" width="4.10" height="4.10" fill="#5a5f5f" stroke="#111" stroke-width="1"/>
<path d="M48.60 173.10 L52.20 169.50 L55.80 173.10 L52.20 176.70Z" fill="#000" stroke="none" stroke-width="0.8"/>
<path d="M53.23 185.37 L54.43 186.57 L53.40 187.60 L54.43 188.63 L53.23 189.83 L52.20 188.80 L51.17 189.83 L49.97 188.63 L51.00 187.60 L49.97 186.57 L51.17 185.37 L52.20 186.40Z" fill="#1f6a35" stroke="#0a200f" stroke-width="0.9" stroke-linejoin="round"/>
<path d="M42.2 200.5 H62" stroke="#6fd487" stroke-width="1.1"/>
<circle cx="52.2" cy="216.9" r="0.8" fill="#4fd07a"/>
<path d="M49.70 230.60 l2.5 -2.1 l2.5 2.1 l-2.5 2.1Z" fill="#8a0f9a" stroke="#0a0a0a" stroke-width="1"/>
<path d="M42.2 243.6 H62" stroke="#d866e0" stroke-width="1.4"/>
<circle cx="52.2" cy="259.4" r="0.8" fill="#e04be0"/>
<g fill="#2a2a2a">
<text x="68.6" y="161.8" font-size="9.3" textLength="6.6" lengthAdjust="spacingAndGlyphs">Ω</text><text x="75.4" y="158.2" font-size="6.8" font-style="italic" textLength="10.3" lengthAdjust="spacingAndGlyphs">best</text><text x="75.2" y="164.0" font-size="6.8" font-style="italic" textLength="6.2" lengthAdjust="spacingAndGlyphs">M</text><text x="86.2" y="161.8" font-size="9.3">,</text><text x="92.3" y="161.8" font-size="9.3" font-style="italic" textLength="6.3" lengthAdjust="spacingAndGlyphs">w</text><text x="98.9" y="158.2" font-size="6.8" font-style="italic" textLength="10.3" lengthAdjust="spacingAndGlyphs">best</text>
<text x="68.6" y="176.0" font-size="9.3" textLength="15.2" lengthAdjust="spacingAndGlyphs">68%</text><text x="85.9" y="176.0" font-size="9.3" textLength="6.6" lengthAdjust="spacingAndGlyphs">Ω</text><text x="92.8" y="173.8" font-size="9.5">′</text><text x="92.5" y="178.0" font-size="6.8" font-style="italic" textLength="6.2" lengthAdjust="spacingAndGlyphs">M</text><text x="99.2" y="176.0" font-size="9.3">,</text><text x="104.8" y="176.0" font-size="9.3" font-style="italic" textLength="6.3" lengthAdjust="spacingAndGlyphs">w</text><text x="111.5" y="174.0" font-size="9.5">′</text>
<text x="68.6" y="190.3" font-size="9.3" textLength="6.6" lengthAdjust="spacingAndGlyphs">Ω</text><text x="75.5" y="188.1" font-size="9.5">′</text><text x="75.2" y="192.3" font-size="6.8" font-style="italic" textLength="6.2" lengthAdjust="spacingAndGlyphs">M</text><text x="81.9" y="190.3" font-size="9.3">,</text><text x="87.5" y="190.3" font-size="9.3" font-style="italic" textLength="6.3" lengthAdjust="spacingAndGlyphs">w</text><text x="94.2" y="188.3" font-size="9.5">′</text><text x="99.8" y="190.3" font-size="9.3" textLength="8.2" lengthAdjust="spacingAndGlyphs">1a</text>
<text x="69.5" y="202.7" font-size="9.3" textLength="60.0" lengthAdjust="spacingAndGlyphs">Coverage ellipse</text>
<text x="68.6" y="219.8" font-size="9.3" textLength="6.6" lengthAdjust="spacingAndGlyphs">Ω</text><text x="70.0" y="212.9" font-size="5.2" textLength="5.4" lengthAdjust="spacingAndGlyphs" font-family="'DejaVu Sans', sans-serif">→</text><text x="75.2" y="221.8" font-size="6.8" font-style="italic" textLength="6.2" lengthAdjust="spacingAndGlyphs">M</text><text x="81.9" y="219.8" font-size="9.3">,</text><text x="87.5" y="219.8" font-size="9.3" font-style="italic" textLength="6.3" lengthAdjust="spacingAndGlyphs">w</text><text x="88.6" y="214.5" font-size="5.2" textLength="5.4" lengthAdjust="spacingAndGlyphs" font-family="'DejaVu Sans', sans-serif">→</text><text x="97.8" y="219.8" font-size="9.3" textLength="8.2" lengthAdjust="spacingAndGlyphs">1a</text>
<text x="68.6" y="234.0" font-size="9.3" textLength="6.6" lengthAdjust="spacingAndGlyphs">Ω</text><text x="75.5" y="231.8" font-size="9.5">′</text><text x="75.2" y="236.0" font-size="6.8" font-style="italic" textLength="6.2" lengthAdjust="spacingAndGlyphs">M</text><text x="81.9" y="234.0" font-size="9.3">,</text><text x="87.5" y="234.0" font-size="9.3" font-style="italic" textLength="6.3" lengthAdjust="spacingAndGlyphs">w</text><text x="94.2" y="232.0" font-size="9.5">′</text><text x="99.8" y="234.0" font-size="9.3" textLength="8.2" lengthAdjust="spacingAndGlyphs">2a</text>
<text x="69.5" y="245.7" font-size="9.3" textLength="60.0" lengthAdjust="spacingAndGlyphs">Coverage ellipse</text>
<text x="68.6" y="262.3" font-size="9.3" textLength="6.6" lengthAdjust="spacingAndGlyphs">Ω</text><text x="70.0" y="255.4" font-size="5.2" textLength="5.4" lengthAdjust="spacingAndGlyphs" font-family="'DejaVu Sans', sans-serif">→</text><text x="75.2" y="264.3" font-size="6.8" font-style="italic" textLength="6.2" lengthAdjust="spacingAndGlyphs">M</text><text x="81.9" y="262.3" font-size="9.3">,</text><text x="87.5" y="262.3" font-size="9.3" font-style="italic" textLength="6.3" lengthAdjust="spacingAndGlyphs">w</text><text x="88.6" y="257.0" font-size="5.2" textLength="5.4" lengthAdjust="spacingAndGlyphs" font-family="'DejaVu Sans', sans-serif">→</text><text x="97.8" y="262.3" font-size="9.3" textLength="8.2" lengthAdjust="spacingAndGlyphs">2a</text>
</g>
<rect x="34.2" y="10.1" width="231.0" height="64.1" fill="none" stroke="#2b2b2b" stroke-width="1.15"/>
<rect x="34.2" y="80.6" width="231.0" height="192.1" fill="none" stroke="#2b2b2b" stroke-width="1.15"/>
<rect x="272.6" y="80.6" width="77.0" height="192.1" fill="none" stroke="#2b2b2b" stroke-width="1.15"/>
<path d="M34.2 80.60 h-2.3" stroke="#2b2b2b" stroke-width="0.8"/>
<text transform="translate(23.6 88.3) rotate(-45)" font-size="9.6" text-anchor="middle" fill="#2a2a2a">−0.6</text>
<path d="M34.2 119.02 h-2.3" stroke="#2b2b2b" stroke-width="0.8"/>
<text transform="translate(23.6 126.7) rotate(-45)" font-size="9.6" text-anchor="middle" fill="#2a2a2a">−0.8</text>
<path d="M34.2 157.44 h-2.3" stroke="#2b2b2b" stroke-width="0.8"/>
<text transform="translate(23.6 165.1) rotate(-45)" font-size="9.6" text-anchor="middle" fill="#2a2a2a">−1.0</text>
<path d="M34.2 195.86 h-2.3" stroke="#2b2b2b" stroke-width="0.8"/>
<text transform="translate(23.6 203.6) rotate(-45)" font-size="9.6" text-anchor="middle" fill="#2a2a2a">−1.2</text>
<path d="M34.2 234.28 h-2.3" stroke="#2b2b2b" stroke-width="0.8"/>
<text transform="translate(23.6 242.0) rotate(-45)" font-size="9.6" text-anchor="middle" fill="#2a2a2a">−1.4</text>
<path d="M91.95 272.7 v2.3" stroke="#2b2b2b" stroke-width="0.8"/>
<text transform="translate(94.2 286.6) rotate(-45)" font-size="9.6" text-anchor="middle" fill="#2a2a2a">0.15</text>
<path d="M149.70 272.7 v2.3" stroke="#2b2b2b" stroke-width="0.8"/>
<text transform="translate(151.9 286.6) rotate(-45)" font-size="9.6" text-anchor="middle" fill="#2a2a2a">0.30</text>
<path d="M207.45 272.7 v2.3" stroke="#2b2b2b" stroke-width="0.8"/>
<text transform="translate(209.6 286.6) rotate(-45)" font-size="9.6" text-anchor="middle" fill="#2a2a2a">0.45</text>
<path d="M265.20 272.7 v2.3" stroke="#2b2b2b" stroke-width="0.8"/>
<text transform="translate(267.4 286.6) rotate(-45)" font-size="9.6" text-anchor="middle" fill="#2a2a2a">0.60</text>
<g fill="#2a2a2a">
<text x="143.4" y="305.6" font-size="9.3" textLength="6.4" lengthAdjust="spacingAndGlyphs">Ω</text><text x="149.9" y="307.2" font-size="6.8" textLength="5.4" lengthAdjust="spacingAndGlyphs">m</text>
<text transform="translate(4.3 176.6) rotate(-90)" font-size="9.3" font-style="italic" text-anchor="middle">w</text>
<text x="117.5" y="7.5" font-size="9.3" textLength="6.4" lengthAdjust="spacingAndGlyphs">Ω</text><text x="123.6" y="9.3" font-size="6.8" textLength="5.2" lengthAdjust="spacingAndGlyphs">m</text><text x="131.7" y="7.5" font-size="9.3" textLength="6.9" lengthAdjust="spacingAndGlyphs">=</text><text x="142.0" y="7.5" font-size="9.3" textLength="20.1" lengthAdjust="spacingAndGlyphs">0.320</text><text x="162.3" y="4.2" font-size="6.8" textLength="17.4" lengthAdjust="spacingAndGlyphs">+0.054</text><text x="162.3" y="9.7" font-size="6.8" textLength="17.4" lengthAdjust="spacingAndGlyphs">−0.075</text>
<text x="276.6" y="78.5" font-size="9.3" font-style="italic" textLength="6.6" lengthAdjust="spacingAndGlyphs">w</text><text x="286.2" y="78.5" font-size="9.3" textLength="6.9" lengthAdjust="spacingAndGlyphs">=</text><text x="296.3" y="78.5" font-size="9.3" textLength="21.7" lengthAdjust="spacingAndGlyphs">−1.00</text><text x="320.3" y="78.5" font-size="9.3" textLength="6.6" lengthAdjust="spacingAndGlyphs">±</text><text x="329.3" y="78.5" font-size="9.3" textLength="15.7" lengthAdjust="spacingAndGlyphs">0.16</text>
</g>
</svg>
</body></html>
